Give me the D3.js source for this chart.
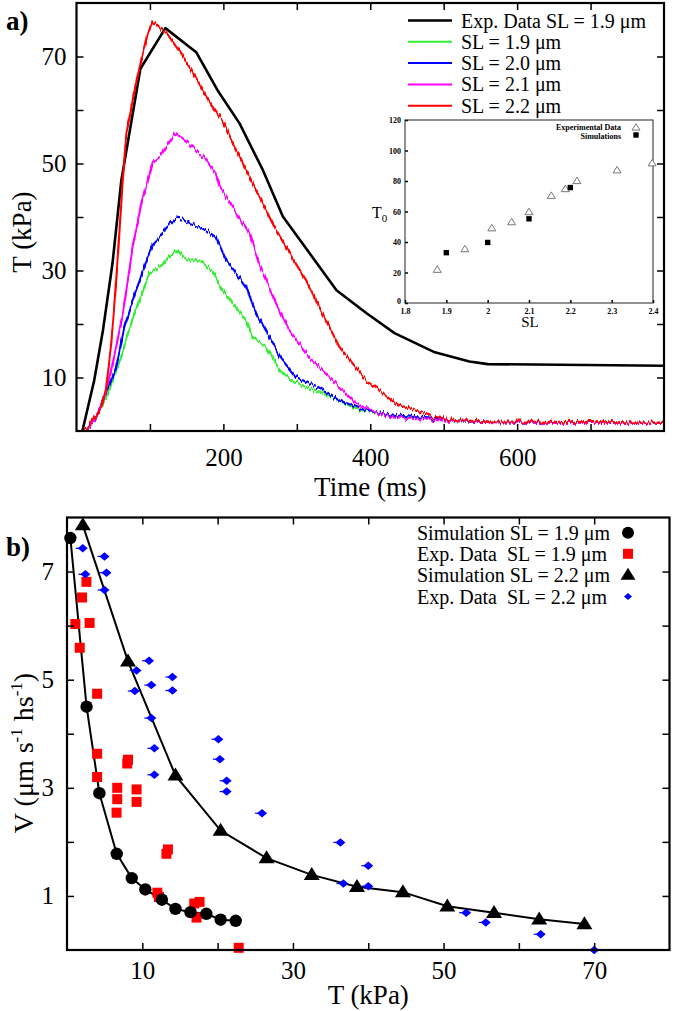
<!DOCTYPE html>
<html><head><meta charset="utf-8">
<script src="https://cdn.jsdelivr.net/npm/d3@7"></script>
<style>
body{margin:0;background:#fff}
svg{display:block;font-family:"Liberation Serif","Times New Roman",serif}
</style>
</head><body>
<svg id="c" width="675" height="1011"></svg>
<script>
// ---------------- DATA ----------------
// Panel a) : tension T (kPa) vs time (ms)
const expData19 = [[8,0],[24,9.4],[36,18.8],[49,31.3],[61,46.8],[87,67.7],[121,75.3],[163,70.8],[192,63.7],[222,57.5],[254,48.7],[281,40.1],[308,35],[354,26.3],[395,22],[433,18.3],[488,14.7],[535,13],[560,12.5],[800,12.2]];
const sim19 = [[14,0],[22,1.5],[30,3.6],[40,6],[52,10.7],[60,13.5],[70,18.2],[78,21.5],[86,24.5],[99,29.4],[108,30.2],[118,31.2],[128,32.8],[137,34],[145,32.5],[154,31.9],[168,31.9],[186,29.7],[199,26.3],[213,23.8],[231,20.7],[240,17.5],[258,15.7],[277,11.3],[295,9.4],[322,7.6],[349,6.3],[381,4.1],[426,2.9],[472,2.3],[520,1.8],[600,1.6],[700,1.5],[800,1.5]];
const sim20 = [[14,0],[22,1.5],[30,3.8],[36,5.7],[45,8.8],[54,11.9],[65,19.4],[81,26.3],[86,28.1],[97,32.5],[104,35],[115,36.5],[122,38.1],[136,39.7],[145,39.5],[154,38.7],[168,38.1],[180,37.2],[190,36.2],[204,31.9],[218,29.4],[231,26.9],[245,21.9],[258,18.8],[277,13.8],[299,10.1],[327,8.2],[358,5.7],[395,3.8],[440,2.9],[485,2.3],[530,1.8],[600,1.6],[800,1.5]];
const sim21 = [[14,0],[22,1.5],[30,3.8],[38,6.3],[49.5,12.6],[63,21.9],[76.7,34.4],[88,42.5],[97,46.8],[104,50.3],[113,51.2],[122,53],[134,55.6],[144,54.8],[154,53.7],[166,52],[177,50.6],[190,48],[195,45.6],[213,41.8],[236,36.9],[249,31.2],[272,23.8],[290,18.8],[317,13.8],[349,9.4],[381,5.1],[413,3.2],[449,2.3],[495,2.0],[550,1.7],[650,1.5],[800,1.5]];
const sim22 = [[8,0],[15,0.6],[22,2],[33.6,4.4],[40.4,8.2],[47,15.7],[54,28],[63,46.8],[68,55.6],[78,63],[86,68],[97,74.3],[104,76.4],[112,75.5],[122,74.5],[140,71],[163,66],[177,62.4],[199,58],[222,51.2],[245,45],[267,38.8],[290,33.2],[313,28.1],[331,23.1],[358,15.7],[395,9.4],[435,5.1],[485,2.7],[517,2.0],[560,1.8],[650,1.7],[800,1.6]];
const seriesNamesA = ["Exp. Data SL = 1.9 \u03bcm","SL = 1.9 \u03bcm","SL = 2.0 \u03bcm","SL = 2.1 \u03bcm","SL = 2.2 \u03bcm"];
const timeTicks = [100,200,300,400,500,600,700];
const timeLabels = [200,400,600];
const tensionTicks = [10,20,30,40,50,60,70];
const tensionLabels = [10,30,50,70];

// Inset: T0 vs SL
const insetExpSL = [1.878,1.945,2.01,2.058,2.1,2.154,2.188,2.216,2.313,2.398];
const insetExpT0 = [21.8,35.3,49,53,59.6,70.3,74.7,80,87,91.6];
const insetSimSL = [1.9,2.0,2.1,2.2];
const insetSimT0 = [33,39.7,55.2,75.7];
const slTicks = [1.8,1.9,2,2.1,2.2,2.3,2.4];
const t0Ticks = [0,20,40,60,80,100,120];

// Panel b) : velocity V vs tension T
const simForce19 = [0.45,2.6,4.3,6.6,8.6,10.4,12.6,14.4,16.4,18.5,20.4,22.4];
const simVel19   = [7.62,4.5,2.9,1.78,1.33,1.12,0.93,0.76,0.7,0.67,0.56,0.54];
const expForce19 = [2.58,2.0,1.11,3.0,1.69,4.0,4.0,4.0,8.0,8.1,6.67,6.67,6.58,9.24,9.24,13.2,13.4,12.0,12.2,17.6,16.9,17.2,22.8];
const expVel19   = [6.81,6.52,6.03,6.05,5.59,4.74,3.63,3.2,3.45,3.52,3.0,2.79,2.54,2.97,2.74,1.78,1.86,1.06,0.98,0.89,0.86,0.6,0.04];
const simForce22 = [2.1,8.1,14.4,20.4,26.5,32.5,38.5,44.6,50.5,56.7,62.7,68.7];
const simVel22   = [7.86,5.34,3.23,2.21,1.70,1.39,1.17,1.07,0.81,0.69,0.57,0.48];
const expForce22 = [2.09,4.98,2.44,5.24,4.98,10.9,9.24,11.2,14.0,14.0,9.0,11.2,11.6,11.6,20.1,20.3,21.2,21.2,25.9,36.3,40.0,36.7,40.0,53.0,55.6,62.9,70.0];
const expVel22   = [7.43,7.28,6.95,6.98,6.66,5.35,5.17,4.90,5.05,4.80,4.79,4.29,3.73,3.24,3.90,3.53,3.13,2.93,2.53,1.99,1.56,1.23,1.18,0.69,0.51,0.29,0.0];
const seriesNamesB = ["Simulation SL = 1.9 \u03bcm","Exp. Data  SL = 1.9 \u03bcm","Simulation SL = 2.2 \u03bcm","Exp. Data  SL = 2.2 \u03bcm"];
const forceTicks = [10,20,30,40,50,60,70];
const forceLabels = [10,30,50,70];
const velTicks = [1,2,3,4,5,6,7];
const velLabels = [1,3,5,7];

// ---------------- DRAWING ----------------
const svg = d3.select("#c");
const colA = ["#000000","#33ee33","#0000ff","#ff00ff","#ff0000"];

// noise filter for simulated traces
const defs = svg.append("defs");
const f = defs.append("filter").attr("id","jit").attr("filterUnits","userSpaceOnUse")
  .attr("x",60).attr("y",0).attr("width",620).attr("height",440)
  .attr("color-interpolation-filters","sRGB");
f.append("feTurbulence").attr("type","fractalNoise").attr("baseFrequency","0.6 0.03")
  .attr("numOctaves",1).attr("seed",4).attr("result","n");
f.append("feColorMatrix").attr("in","n").attr("type","matrix")
  .attr("values","0 0 0 0 0.5  0 1 0 0 0  0 0 0 0 0  0 0 0 0 1").attr("result","m");
f.append("feDisplacementMap").attr("in","SourceGraphic").attr("in2","m").attr("scale",9)
  .attr("xChannelSelector","R").attr("yChannelSelector","G");

function styleAxis(g, fs){
  g.attr("font-family",null).attr("font-size",fs);
  g.select(".domain").remove();
  g.selectAll(".tick line").attr("stroke","#000").attr("stroke-width",1.5);
  g.selectAll(".tick text").attr("fill","#000");
}
function frame(x, y, ticksX, labelsX, ticksY, labelsY, tl, fs, padX, padY){
  const [x0,x1] = x.range(), [y0,y1] = y.range();
  const fx = d => labelsX.includes(d) ? d : "";
  const fy = d => labelsY.includes(d) ? d : "";
  styleAxis(svg.append("g").attr("transform",`translate(0,${y0})`)
    .call(d3.axisBottom(x).tickValues(ticksX).tickFormat(fx).tickSizeInner(-tl).tickSizeOuter(0).tickPadding(padX)), fs);
  styleAxis(svg.append("g").attr("transform",`translate(0,${y1})`)
    .call(d3.axisTop(x).tickValues(ticksX).tickFormat("").tickSizeInner(-tl).tickSizeOuter(0)), fs);
  styleAxis(svg.append("g").attr("transform",`translate(${x0},0)`)
    .call(d3.axisLeft(y).tickValues(ticksY).tickFormat(fy).tickSizeInner(-tl).tickSizeOuter(0).tickPadding(padY)), fs);
  styleAxis(svg.append("g").attr("transform",`translate(${x1},0)`)
    .call(d3.axisRight(y).tickValues(ticksY).tickFormat("").tickSizeInner(-tl).tickSizeOuter(0)), fs);
  svg.append("rect").attr("x",x0).attr("y",y1).attr("width",x1-x0).attr("height",y0-y1)
    .attr("fill","none").attr("stroke","#000").attr("stroke-width",2.2);
}

// ----- Panel a -----
const xA = d3.scaleLinear().domain([0,800]).range([76.5,664]);
const yA = d3.scaleLinear().domain([0,80]).range([431,3]);
defs.append("clipPath").attr("id","clipA").append("rect")
  .attr("x",76.5).attr("y",3).attr("width",664-76.5).attr("height",428);
const lineA = d3.line().x(d=>xA(d[0])).y(d=>yA(d[1]));
const gA = svg.append("g").attr("clip-path","url(#clipA)");
gA.append("path").datum(expData19).attr("d",lineA).attr("fill","none")
  .attr("stroke",colA[0]).attr("stroke-width",2.6).attr("stroke-linejoin","round");
const gSim = gA.append("g").attr("filter","url(#jit)");
[sim19,sim20,sim21,sim22].forEach((s,i)=>{
  gSim.append("path").datum(s).attr("d",lineA).attr("fill","none")
    .attr("stroke",colA[i+1]).attr("stroke-width",2.1).attr("stroke-linejoin","round");
});
frame(xA,yA,timeTicks,timeLabels,tensionTicks,tensionLabels,7,25,17,10);

svg.append("text").attr("x",6).attr("y",30).attr("font-size",27).attr("font-weight","bold").text("a)");
svg.append("text").attr("transform","translate(31,232) rotate(-90)").attr("text-anchor","middle")
  .attr("font-size",27).text("T (kPa)");
svg.append("text").attr("x",(76.5+664)/2).attr("y",496).attr("text-anchor","middle")
  .attr("font-size",27).text("Time (ms)");

// legend a
const legA = [20.5,41.8,63.1,84.4,105.7];
seriesNamesA.forEach((n,i)=>{
  svg.append("line").attr("x1",408).attr("x2",452).attr("y1",legA[i]).attr("y2",legA[i])
    .attr("stroke",colA[i]).attr("stroke-width", i===0?2.6:2);
  svg.append("text").attr("x",461).attr("y",legA[i]+7).attr("font-size",20).text(n);
});

// ----- Inset -----
const xI = d3.scaleLinear().domain([1.8,2.4]).range([405,653]);
const yI = d3.scaleLinear().domain([0,120]).range([303,120]);
svg.append("rect").attr("x",405).attr("y",120).attr("width",248).attr("height",183).attr("fill","#fff");
const gxI = svg.append("g").attr("transform","translate(0,303)")
  .call(d3.axisBottom(xI).tickValues(slTicks).tickFormat(d=>String(+d.toFixed(1))).tickSizeInner(-3).tickSizeOuter(0).tickPadding(5));
const gyI = svg.append("g").attr("transform","translate(405,0)")
  .call(d3.axisLeft(yI).tickValues(t0Ticks).tickFormat(d=>String(d)).tickSizeInner(-3).tickSizeOuter(0).tickPadding(4));
[gxI,gyI].forEach(g=>{styleAxis(g,8); g.attr("font-weight","bold");});
gyI.selectAll(".tick text").filter(d=>d===0).attr("dy","0.1em");
svg.append("rect").attr("x",405).attr("y",120).attr("width",248).attr("height",183)
  .attr("fill","none").attr("stroke","#222").attr("stroke-width",1);
const tri = (w,h)=>`M0,${-h*0.6}L${w/2},${h*0.4}L${-w/2},${h*0.4}Z`;
insetExpSL.forEach((s,i)=>{
  svg.append("path").attr("d",tri(8,6.5)).attr("transform",`translate(${xI(s)},${yI(insetExpT0[i])})`)
    .attr("fill","#fff").attr("stroke","#777").attr("stroke-width",1);
});
insetSimSL.forEach((s,i)=>{
  svg.append("rect").attr("x",xI(s)-2.7).attr("y",yI(insetSimT0[i])-2.7).attr("width",5.4).attr("height",5.4).attr("fill","#000");
});
svg.append("text").attr("x",621).attr("y",130).attr("text-anchor","end").attr("font-size",8).attr("font-weight","bold").text("Experimental Data");
svg.append("text").attr("x",621).attr("y",138.5).attr("text-anchor","end").attr("font-size",8).attr("font-weight","bold").text("Simulations");
svg.append("path").attr("d",tri(8,6.5)).attr("transform","translate(636,127.5)").attr("fill","#fff").attr("stroke","#777");
svg.append("rect").attr("x",633.3).attr("y",132.3).attr("width",5.4).attr("height",5.4).attr("fill","#000");
const t0 = svg.append("text").attr("x",372).attr("y",218).attr("font-size",16).text("T");
t0.append("tspan").attr("font-size",11).attr("dy",4).text("0");
svg.append("text").attr("x",530).attr("y",327).attr("text-anchor","middle").attr("font-size",15).text("SL");

// ----- Panel b -----
const xB = d3.scaleLinear().domain([0,80]).range([67,669.5]);
const yB = d3.scaleLinear().domain([0,8]).range([950,517.5]);
const lineB = d3.line().x(d=>xB(d[0])).y(d=>yB(d[1]));
svg.append("path").datum(d3.zip(simForce19,simVel19)).attr("d",lineB).attr("fill","none").attr("stroke","#000").attr("stroke-width",2);
svg.append("path").datum(d3.zip(simForce22,simVel22)).attr("d",lineB).attr("fill","none").attr("stroke","#000").attr("stroke-width",2);

const triB = tri(16,13);
const dia = (w,h)=>`M0,${-h/2}L${w/2},0L0,${h/2}L${-w/2},0Z`;
const gB = svg.append("g");
expForce19.forEach((t,i)=>{
  gB.append("rect").attr("x",xB(t)-5).attr("y",yB(expVel19[i])-5).attr("width",10).attr("height",10).attr("fill","#ff0000");
});
expForce22.forEach((t,i)=>{
  const cx=xB(t), cy=yB(expVel22[i]);
  gB.append("line").attr("x1",cx-7).attr("x2",cx).attr("y1",cy).attr("y2",cy).attr("stroke","#0000ff").attr("stroke-width",1.2);
  gB.append("path").attr("d",dia(10,8.5)).attr("transform",`translate(${cx},${cy})`).attr("fill","#0000ff");
});
simForce19.forEach((t,i)=>{
  gB.append("circle").attr("cx",xB(t)).attr("cy",yB(simVel19[i])).attr("r",6.2).attr("fill","#000");
});
simForce22.forEach((t,i)=>{
  gB.append("path").attr("d",triB).attr("transform",`translate(${xB(t)},${yB(simVel22[i])})`).attr("fill","#000");
});
frame(xB,yB,forceTicks,forceLabels,velTicks,velLabels,7,25,11,13);

svg.append("text").attr("x",6).attr("y",556).attr("font-size",27).attr("font-weight","bold").text("b)");
const vl = svg.append("text").attr("transform","translate(33,753) rotate(-90)").attr("text-anchor","middle").attr("font-size",28);
vl.append("tspan").text("V (\u03bcm s");
vl.append("tspan").attr("font-size",17).attr("dy",-11).text("-1");
vl.append("tspan").attr("dy",11).text(" hs");
vl.append("tspan").attr("font-size",17).attr("dy",-11).text("-1");
vl.append("tspan").attr("dy",11).text(")");
svg.append("text").attr("x",(67+669.5)/2).attr("y",1004).attr("text-anchor","middle").attr("font-size",27).text("T (kPa)");

// legend b
const legB = [532.7,553.8,575,596.5];
seriesNamesB.forEach((n,i)=>{
  svg.append("text").attr("x",417).attr("y",legB[i]+7).attr("font-size",20).style("white-space","pre").text(n);
});
svg.append("circle").attr("cx",628).attr("cy",legB[0]).attr("r",6).attr("fill","#000");
svg.append("rect").attr("x",623).attr("y",legB[1]-5).attr("width",10).attr("height",10).attr("fill","#ff0000");
svg.append("path").attr("d",tri(15,12)).attr("transform",`translate(628,${legB[2]})`).attr("fill","#000");
svg.append("path").attr("d",dia(8,7)).attr("transform",`translate(628,${legB[3]})`).attr("fill","#0000ff");
</script>
</body></html>
